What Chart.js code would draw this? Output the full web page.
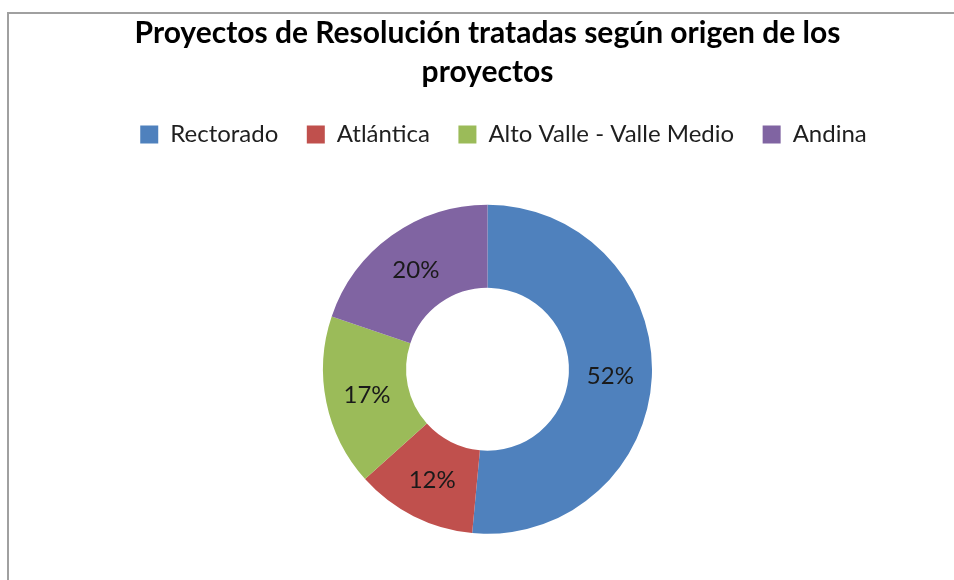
<!DOCTYPE html>
<html lang="es">
<head>
    <meta charset="UTF-8">
    <title>Proyectos de Resolución</title>
    <script src="https://cdn.jsdelivr.net/npm/chart.js"></script>
    <style>
        html, body { margin: 0; padding: 0; background: #fff; overflow: hidden; }
        .caja { position: relative; width: 954px; height: 580px; overflow: hidden; }
        .marco {
            position: absolute; left: 7px; top: 12px; right: -10px; bottom: -10px;
            border-left: 2px solid #a0a0a0; border-top: 2px solid #a0a0a0;
            pointer-events: none;
        }
    </style>
</head>
<body>
    <div class="caja">
        <!-- el lienzo es algo más alto que la ventana para poder bajar la rosca -->
        <canvas id="grafico_rosca" width="954" height="600"></canvas>
        <div class="marco"></div>
    </div>
<script>
    var titulo = ['Proyectos de Resolución tratadas según origen de los', 'proyectos'];
    var origenes = ['Rectorado', 'Atlántica', 'Alto Valle - Valle Medio', 'Andina'];
    var porcentajes = [52, 12, 17, 20];
    var colores = ['#4F81BD', '#C0504D', '#9BBB59', '#8064A2'];

    var fuente = 'Lato, "Open Sans", sans-serif';

    // etiquetas de porcentaje dentro de cada sector
    const etiquetas = {
        id: 'etiquetas',
        afterLayout(chart) {
            // la leyenda del original queda algo corrida a la derecha y abajo
            chart.legend.left += 16;
            chart.legend.right += 16;
            chart.legend.top += 2;
            chart.legend.bottom += 2;
        },
        afterDatasetsDraw(chart) {
            const ctx = chart.ctx;
            const meta = chart.getDatasetMeta(0);
            ctx.save();
            ctx.font = '24px ' + fuente;
            ctx.fillStyle = '#1a1a1a';
            ctx.textAlign = 'center';
            ctx.textBaseline = 'middle';
            meta.data.forEach(function (arco, i) {
                const pos = arco.tooltipPosition();
                ctx.fillText(porcentajes[i] + '%', pos.x, pos.y + 1);
            });
            ctx.restore();
        }
    };

    const chart = new Chart('grafico_rosca', {
        type: 'doughnut',
        data: {
            labels: origenes,
            datasets: [{
                data: porcentajes,
                backgroundColor: colores,
                borderWidth: 0,
                radius: 164.5,
                cutout: '49.5%'
            }]
        },
        options: {
            responsive: false,
            animation: false,
            layout: {
                padding: { left: 21, right: 0, top: 4, bottom: 16 }
            },
            plugins: {
                title: {
                    display: true,
                    text: titulo,
                    color: '#000',
                    font: { family: fuente, size: 30, weight: 'bold', lineHeight: 1.3 },
                    padding: { top: 10, bottom: 0 }
                },
                legend: {
                    position: 'top',
                    labels: {
                        boxWidth: 18,
                        boxHeight: 18,
                        padding: 28.5,
                        color: '#1f1f1f',
                        font: { family: fuente, size: 24 }
                    }
                },
                tooltip: { enabled: false }
            }
        },
        plugins: [etiquetas]
    });
</script>
</body>
</html>
